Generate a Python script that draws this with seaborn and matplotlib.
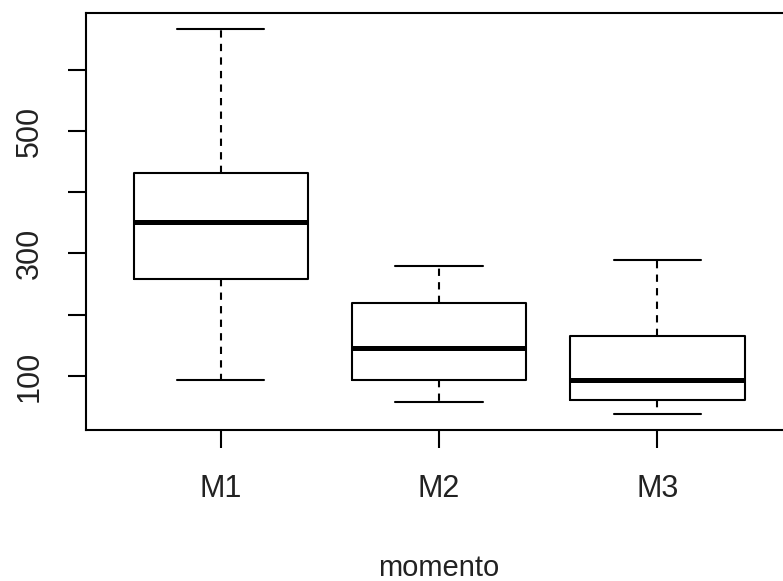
import numpy as np
import pandas as pd
import matplotlib
matplotlib.use("Agg")
import matplotlib.pyplot as plt
import seaborn as sns

# Groups and their five-number summaries: min, Q1, median, Q3, max
momento = ["M1", "M2", "M3"]
m1 = [93, 258, 352, 431, 666]
m2 = [57, 94, 146, 219, 280]
m3 = [38, 61, 94, 165, 290]

ytick_values = [100, 200, 300, 400, 500, 600]
ytick_labels = ["100", "", "300", "", "500", ""]

df = pd.DataFrame({
    "momento": np.repeat(momento, 5),
    "valor": m1 + m2 + m3,
})

sns.set_style("white")
plt.rcParams["font.family"] = ["Liberation Sans", "DejaVu Sans"]

fig = plt.figure(figsize=(7.83, 5.81), dpi=100)
ax = fig.add_axes([0.1092, 0.2599, 0.903, 0.7177])

lw = 1.5
sns.boxplot(
    data=df, x="momento", y="valor", order=momento, ax=ax,
    width=0.8, fill=False, linecolor="black", linewidth=lw,
    whis=1.5, showfliers=False,
    medianprops=dict(linewidth=3.6, color="black"),
    whiskerprops=dict(linestyle=(0, (3.5, 3)), linewidth=lw, color="black"),
    capprops=dict(linewidth=lw, color="black"),
    boxprops=dict(linewidth=lw, color="black"),
)

ax.set_xlim(-0.62, 2.62)
ax.set_ylim(11.8, 692.6)
ax.set_yticks(ytick_values)
ax.set_yticklabels(ytick_labels, rotation=90, va="center")

for side in ["left", "right", "top", "bottom"]:
    ax.spines[side].set_visible(True)
    ax.spines[side].set_color("black")
    ax.spines[side].set_linewidth(lw)

ax.tick_params(axis="both", bottom=True, left=True, direction="out",
               length=13, width=lw, color="black", labelsize=22,
               labelcolor="#222222")
ax.tick_params(axis="x", pad=19)
ax.tick_params(axis="y", pad=16.5)

ax.set_ylabel("")
ax.set_xlabel("momento", fontsize=21, color="#222222")
ax.xaxis.set_label_coords(0.5, -0.3505)
ax.xaxis.label.set_va("baseline")

fig.savefig("out.png", dpi=100, facecolor="white")
